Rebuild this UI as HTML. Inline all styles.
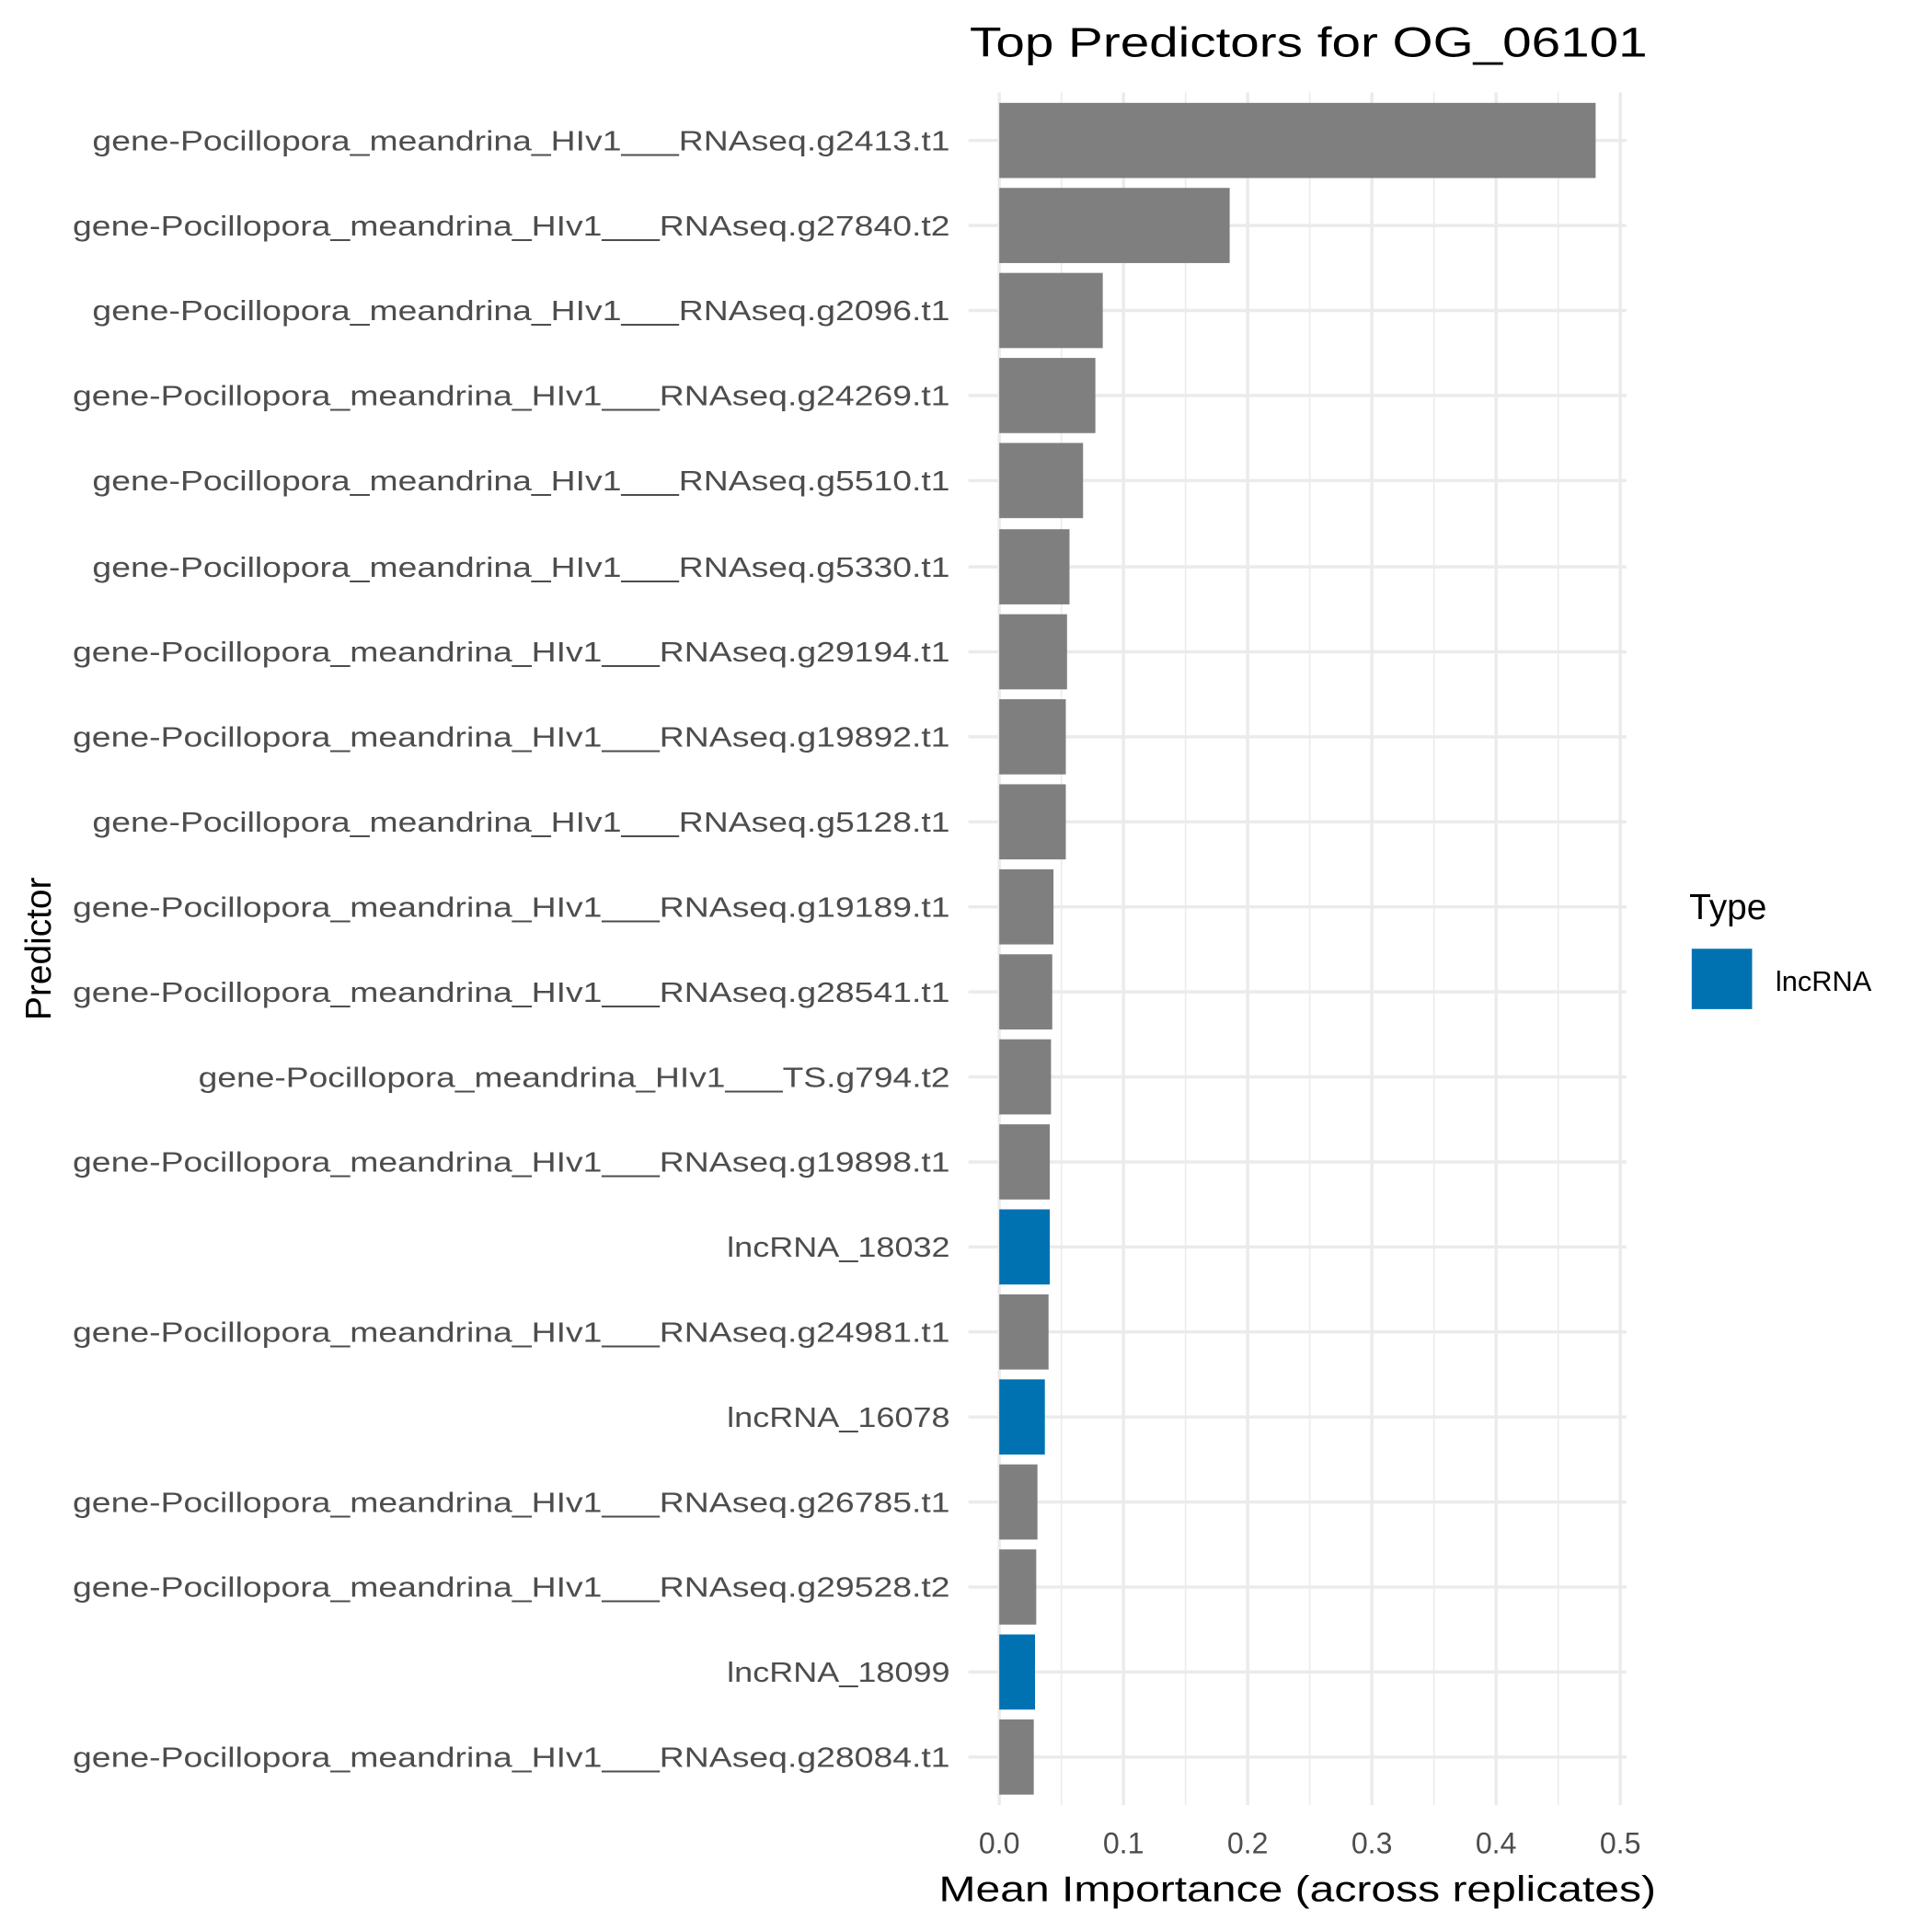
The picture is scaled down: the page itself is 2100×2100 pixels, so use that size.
<!DOCTYPE html>
<html><head><style>html,body{margin:0;padding:0;background:#fff}svg{display:block}</style></head>
<body>
<svg width="2100" height="2100" viewBox="0 0 1568 1568" xmlns="http://www.w3.org/2000/svg" font-family="Liberation Sans, DejaVu Sans, sans-serif">
<rect width="1568" height="1568" fill="#fff"/>
<g stroke="#ebebeb" stroke-width="1.2">
<line x1="861.4" y1="75" x2="861.4" y2="1465"/><line x1="962.2" y1="75" x2="962.2" y2="1465"/><line x1="1063" y1="75" x2="1063" y2="1465"/><line x1="1163.8" y1="75" x2="1163.8" y2="1465"/><line x1="1264.6" y1="75" x2="1264.6" y2="1465"/>
</g>
<g stroke="#ebebeb" stroke-width="2.6">
<line x1="811" y1="75" x2="811" y2="1465"/><line x1="911.8" y1="75" x2="911.8" y2="1465"/><line x1="1012.6" y1="75" x2="1012.6" y2="1465"/><line x1="1113.4" y1="75" x2="1113.4" y2="1465"/><line x1="1214.2" y1="75" x2="1214.2" y2="1465"/><line x1="1315" y1="75" x2="1315" y2="1465"/>
</g>
<g stroke="#ebebeb" stroke-width="2.6">
<line x1="786" x2="1320" y1="114" y2="114"/><line x1="786" x2="1320" y1="183" y2="183"/><line x1="786" x2="1320" y1="252" y2="252"/><line x1="786" x2="1320" y1="321" y2="321"/><line x1="786" x2="1320" y1="390" y2="390"/><line x1="786" x2="1320" y1="460" y2="460"/><line x1="786" x2="1320" y1="529" y2="529"/><line x1="786" x2="1320" y1="598" y2="598"/><line x1="786" x2="1320" y1="667" y2="667"/><line x1="786" x2="1320" y1="736" y2="736"/><line x1="786" x2="1320" y1="805" y2="805"/><line x1="786" x2="1320" y1="874" y2="874"/><line x1="786" x2="1320" y1="943" y2="943"/><line x1="786" x2="1320" y1="1012" y2="1012"/><line x1="786" x2="1320" y1="1081" y2="1081"/><line x1="786" x2="1320" y1="1150" y2="1150"/><line x1="786" x2="1320" y1="1219" y2="1219"/><line x1="786" x2="1320" y1="1288" y2="1288"/><line x1="786" x2="1320" y1="1357" y2="1357"/><line x1="786" x2="1320" y1="1426" y2="1426"/>
</g>
<g fill="#7f7f7f">
<rect x="811" y="83.5" width="484" height="61"/>
<rect x="811" y="152.5" width="187" height="61"/>
<rect x="811" y="221.5" width="84" height="61"/>
<rect x="811" y="290.5" width="78" height="61"/>
<rect x="811" y="359.5" width="68" height="61"/>
<rect x="811" y="429.5" width="57" height="61"/>
<rect x="811" y="498.5" width="55" height="61"/>
<rect x="811" y="567.5" width="54" height="61"/>
<rect x="811" y="636.5" width="54" height="61"/>
<rect x="811" y="705.5" width="44" height="61"/>
<rect x="811" y="774.5" width="43" height="61"/>
<rect x="811" y="843.5" width="42" height="61"/>
<rect x="811" y="912.5" width="41" height="61"/>
<rect x="811" y="1050.5" width="40" height="61"/>
<rect x="811" y="1188.5" width="31" height="61"/>
<rect x="811" y="1257.5" width="30" height="61"/>
<rect x="811" y="1395.5" width="28" height="61"/>
</g>
<g fill="#0072b2">
<rect x="811" y="981.5" width="41" height="61"/>
<rect x="811" y="1119.5" width="37" height="61"/>
<rect x="811" y="1326.5" width="29" height="61"/>
</g>
<g fill="#4d4d4d" font-size="23" text-anchor="end">
<text x="771" y="122" textLength="696" lengthAdjust="spacingAndGlyphs">gene-Pocillopora_meandrina_HIv1___RNAseq.g2413.t1</text>
<text x="771" y="191" textLength="712" lengthAdjust="spacingAndGlyphs">gene-Pocillopora_meandrina_HIv1___RNAseq.g27840.t2</text>
<text x="771" y="260" textLength="696" lengthAdjust="spacingAndGlyphs">gene-Pocillopora_meandrina_HIv1___RNAseq.g2096.t1</text>
<text x="771" y="329" textLength="712" lengthAdjust="spacingAndGlyphs">gene-Pocillopora_meandrina_HIv1___RNAseq.g24269.t1</text>
<text x="771" y="398" textLength="696" lengthAdjust="spacingAndGlyphs">gene-Pocillopora_meandrina_HIv1___RNAseq.g5510.t1</text>
<text x="771" y="468" textLength="696" lengthAdjust="spacingAndGlyphs">gene-Pocillopora_meandrina_HIv1___RNAseq.g5330.t1</text>
<text x="771" y="537" textLength="712" lengthAdjust="spacingAndGlyphs">gene-Pocillopora_meandrina_HIv1___RNAseq.g29194.t1</text>
<text x="771" y="606" textLength="712" lengthAdjust="spacingAndGlyphs">gene-Pocillopora_meandrina_HIv1___RNAseq.g19892.t1</text>
<text x="771" y="675" textLength="696" lengthAdjust="spacingAndGlyphs">gene-Pocillopora_meandrina_HIv1___RNAseq.g5128.t1</text>
<text x="771" y="744" textLength="712" lengthAdjust="spacingAndGlyphs">gene-Pocillopora_meandrina_HIv1___RNAseq.g19189.t1</text>
<text x="771" y="813" textLength="712" lengthAdjust="spacingAndGlyphs">gene-Pocillopora_meandrina_HIv1___RNAseq.g28541.t1</text>
<text x="771" y="882" textLength="610" lengthAdjust="spacingAndGlyphs">gene-Pocillopora_meandrina_HIv1___TS.g794.t2</text>
<text x="771" y="951" textLength="712" lengthAdjust="spacingAndGlyphs">gene-Pocillopora_meandrina_HIv1___RNAseq.g19898.t1</text>
<text x="771" y="1020" textLength="181" lengthAdjust="spacingAndGlyphs">lncRNA_18032</text>
<text x="771" y="1089" textLength="712" lengthAdjust="spacingAndGlyphs">gene-Pocillopora_meandrina_HIv1___RNAseq.g24981.t1</text>
<text x="771" y="1158" textLength="181" lengthAdjust="spacingAndGlyphs">lncRNA_16078</text>
<text x="771" y="1227" textLength="712" lengthAdjust="spacingAndGlyphs">gene-Pocillopora_meandrina_HIv1___RNAseq.g26785.t1</text>
<text x="771" y="1296" textLength="712" lengthAdjust="spacingAndGlyphs">gene-Pocillopora_meandrina_HIv1___RNAseq.g29528.t2</text>
<text x="771" y="1365" textLength="181" lengthAdjust="spacingAndGlyphs">lncRNA_18099</text>
<text x="771" y="1434" textLength="712" lengthAdjust="spacingAndGlyphs">gene-Pocillopora_meandrina_HIv1___RNAseq.g28084.t1</text>
</g>
<g fill="#4d4d4d" font-size="24" text-anchor="middle">
<text x="811" y="1504">0.0</text><text x="911.8" y="1504">0.1</text><text x="1012.6" y="1504">0.2</text><text x="1113.4" y="1504">0.3</text><text x="1214.2" y="1504">0.4</text><text x="1315" y="1504">0.5</text>
</g>
<text x="1053" y="1543" font-size="29" text-anchor="middle" fill="#000" textLength="582" lengthAdjust="spacingAndGlyphs">Mean Importance (across replicates)</text>
<text transform="translate(41,770) rotate(-90)" font-size="29" text-anchor="middle" fill="#000">Predictor</text>
<text x="1062" y="46" font-size="34" text-anchor="middle" fill="#000" textLength="550" lengthAdjust="spacingAndGlyphs">Top Predictors for OG_06101</text>
<text x="1371" y="746" font-size="29" fill="#000">Type</text>
<rect x="1373" y="770" width="49" height="49" fill="#0072b2"/>
<text x="1441" y="804" font-size="23" fill="#000">lncRNA</text>
</svg>
</body></html>
